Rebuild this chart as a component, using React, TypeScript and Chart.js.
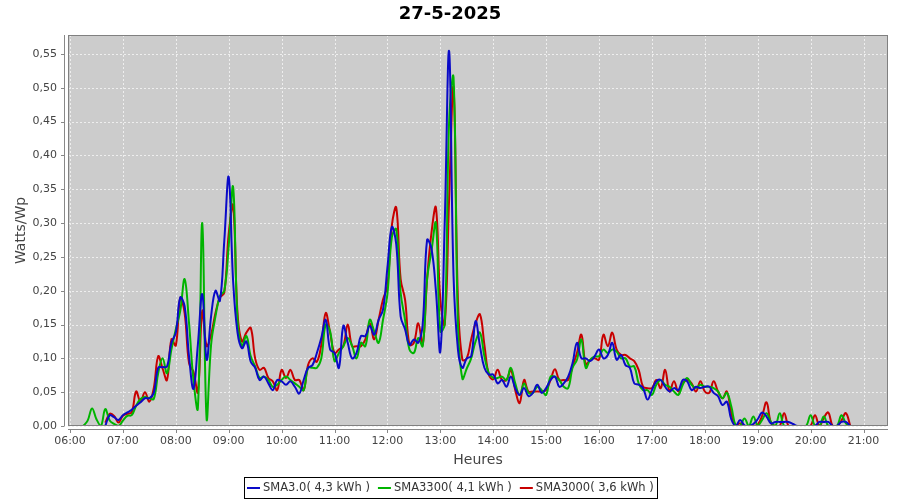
import React, { useEffect, useRef } from "react";
import { Chart, registerables } from "chart.js";

Chart.register(...registerables);

const TITLE = "27-5-2025";
const Y_TITLE = "Watts/Wp";
const X_TITLE = "Heures";
const START_HOUR = 6;
const STEP_MINUTES = 5;
const HOUR_TICKS = [6, 7, 8, 9, 10, 11, 12, 13, 14, 15, 16, 17, 18, 19, 20, 21];
const Y_TICKS = [0, 0.05, 0.1, 0.15, 0.2, 0.25, 0.3, 0.35, 0.4, 0.45, 0.5, 0.55];
const SERIES_NAMES = ["SMA3.0( 4,3 kWh )", "SMA3300( 4,1 kWh )", "SMA3000( 3,6 kWh )"];
const SERIES_COLORS = ["#0a0ac8", "#00b400", "#c80000"];

const sma30 = [
  null, null, null, null, null, null, null, null, 0, 0.016,
  0.013, 0.009, 0.016, 0.02, 0.024, 0.03, 0.035, 0.041, 0.041, 0.049,
  0.086, 0.087, 0.088, 0.123, 0.138, 0.19, 0.177, 0.103, 0.055, 0.12,
  0.195, 0.098, 0.162, 0.2, 0.185, 0.274, 0.368, 0.214, 0.138, 0.115,
  0.125, 0.095, 0.086, 0.068, 0.073, 0.063, 0.053, 0.068, 0.066, 0.061,
  0.066, 0.058, 0.048, 0.068, 0.086, 0.09, 0.108, 0.13, 0.157, 0.113,
  0.108, 0.086, 0.148, 0.123, 0.1, 0.108, 0.133, 0.133, 0.148, 0.135,
  0.157, 0.172, 0.234, 0.294, 0.269, 0.162, 0.143, 0.12, 0.128, 0.123,
  0.15, 0.275, 0.262, 0.2, 0.11, 0.3, 0.554, 0.222, 0.113, 0.086,
  0.1, 0.103, 0.155, 0.118, 0.086, 0.076, 0.076, 0.063, 0.068, 0.058,
  0.073, 0.056, 0.046, 0.056, 0.044, 0.049, 0.061, 0.049, 0.056, 0.068,
  0.073, 0.058, 0.063, 0.073, 0.093, 0.123, 0.1, 0.1, 0.096, 0.103,
  0.113, 0.1, 0.105, 0.123, 0.098, 0.105, 0.09, 0.086, 0.063, 0.061,
  0.056, 0.039, 0.053, 0.066, 0.068, 0.058, 0.051, 0.056, 0.053, 0.068,
  0.066, 0.053, 0.058, 0.056, 0.058, 0.058, 0.049, 0.044, 0.031, 0.036,
  0.01, 0, 0.009, 0.001, 0, 0.003, 0.01, 0.02, 0.014, 0.004,
  0.006, 0.006, 0.006, 0.006, 0.003, 0, 0, 0, 0, 0,
  0.006, 0.006, 0.006, 0, 0, 0.006, 0.006, 0, null, null,
  null, null, null,
];

const sma3300 = [
  null, null, null, 0, 0.008, 0.026, 0.01, 0, 0.025, 0.008,
  0.003, 0, 0.008, 0.015, 0.016, 0.03, 0.04, 0.043, 0.041, 0.04,
  0.078, 0.1, 0.078, 0.113, 0.143, 0.17, 0.217, 0.152, 0.068, 0.026,
  0.3, 0.009, 0.12, 0.162, 0.192, 0.2, 0.266, 0.353, 0.157, 0.118,
  0.133, 0.103, 0.088, 0.071, 0.073, 0.068, 0.058, 0.061, 0.068, 0.073,
  0.068, 0.063, 0.058, 0.053, 0.086, 0.086, 0.086, 0.1, 0.15, 0.14,
  0.096, 0.108, 0.118, 0.13, 0.118, 0.1, 0.123, 0.118, 0.157, 0.14,
  0.123, 0.157, 0.195, 0.279, 0.291, 0.197, 0.157, 0.113, 0.108, 0.13,
  0.118, 0.217, 0.259, 0.3, 0.14, 0.15, 0.45, 0.515, 0.15, 0.07,
  0.085, 0.1, 0.125, 0.138, 0.103, 0.078, 0.071, 0.071, 0.073, 0.068,
  0.086, 0.063, 0.046, 0.063, 0.049, 0.049, 0.058, 0.053, 0.046, 0.073,
  0.073, 0.068, 0.058, 0.056, 0.086, 0.098, 0.128, 0.086, 0.098, 0.103,
  0.103, 0.113, 0.108, 0.113, 0.11, 0.1, 0.1, 0.088, 0.088, 0.063,
  0.053, 0.053, 0.046, 0.061, 0.068, 0.061, 0.058, 0.051, 0.046, 0.061,
  0.071, 0.061, 0.056, 0.061, 0.058, 0.058, 0.056, 0.051, 0.041, 0.049,
  0.029, 0.001, 0, 0.011, 0, 0.014, 0.001, 0.009, 0.019, 0.006,
  0, 0.019, 0, 0, 0, 0, 0, 0, 0.016, 0,
  0, 0.014, 0, 0, 0, 0.016, 0.004, 0, 0, 0,
  0, 0, 0,
];

const sma3000 = [
  null, null, null, null, null, null, null, null, 0.005, 0.018,
  0.015, 0.005, 0.015, 0.018, 0.02, 0.051, 0.036, 0.05, 0.036, 0.056,
  0.103, 0.085, 0.068, 0.128, 0.119, 0.189, 0.167, 0.093, 0.08, 0.05,
  0.17, 0.118, 0.135, 0.167, 0.19, 0.197, 0.284, 0.326, 0.167, 0.125,
  0.138, 0.145, 0.1, 0.083, 0.086, 0.071, 0.066, 0.053, 0.083, 0.071,
  0.083, 0.068, 0.068, 0.053, 0.09, 0.1, 0.095, 0.12, 0.167, 0.138,
  0.108, 0.113, 0.118, 0.15, 0.118, 0.118, 0.118, 0.128, 0.152, 0.128,
  0.157, 0.187, 0.207, 0.296, 0.323, 0.217, 0.187, 0.12, 0.123, 0.152,
  0.12, 0.217, 0.286, 0.323, 0.187, 0.15, 0.336, 0.5, 0.185, 0.098,
  0.1, 0.128, 0.152, 0.165, 0.12, 0.076, 0.069, 0.083, 0.068, 0.068,
  0.083, 0.053, 0.034, 0.068, 0.051, 0.051, 0.051, 0.051, 0.053, 0.068,
  0.084, 0.068, 0.068, 0.068, 0.088, 0.108, 0.135, 0.091, 0.098, 0.1,
  0.098, 0.135, 0.118, 0.138, 0.113, 0.105, 0.105, 0.1, 0.096, 0.083,
  0.058, 0.056, 0.056, 0.068, 0.056, 0.083, 0.051, 0.066, 0.051, 0.063,
  0.068, 0.063, 0.051, 0.066, 0.051, 0.049, 0.066, 0.051, 0.041, 0.051,
  0.019, 0, 0.004, 0, 0, 0, 0.002, 0.015, 0.035, 0.005,
  0, 0, 0.019, 0, 0, 0, 0, 0, 0, 0.016,
  0, 0.012, 0.02, 0, 0, 0.008, 0.019, 0, null, null,
  null, null, null,
];

const SERIES = [sma30, sma3300, sma3000];
const times = sma30.map((_, i) => START_HOUR + (i * STEP_MINUTES) / 60);

const FONT = '"DejaVu Sans", "Liberation Sans", sans-serif';

const hourLabel = (h: number) => (h < 10 ? "0" + h : "" + h) + ":00";
const yLabel = (v: number) => v.toFixed(2).replace(".", ",");

const framePlugin = {
  id: "jfreeFrame",
  beforeDatasetsDraw(chart: any) {
    const { ctx, chartArea: a, scales } = chart;
    const xs = scales.x;
    const ys = scales.y;
    ctx.save();
    ctx.fillStyle = "#cccccc";
    ctx.fillRect(a.left, a.top, a.right - a.left, a.bottom - a.top);
    ctx.strokeStyle = "#eeeeee";
    ctx.lineWidth = 1;
    ctx.setLineDash([2, 2]);
    HOUR_TICKS.forEach((h) => {
      const px = Math.round(xs.getPixelForValue(h)) + 0.5;
      ctx.beginPath();
      ctx.moveTo(px, a.top);
      ctx.lineTo(px, a.bottom);
      ctx.stroke();
    });
    Y_TICKS.forEach((v) => {
      const py = Math.round(ys.getPixelForValue(v)) + 0.5;
      ctx.beginPath();
      ctx.moveTo(a.left, py);
      ctx.lineTo(a.right, py);
      ctx.stroke();
    });
    ctx.setLineDash([]);
    ctx.strokeStyle = "#888888";
    ctx.beginPath();
    ctx.moveTo(a.left - 3.5, a.top);
    ctx.lineTo(a.left - 3.5, a.bottom);
    ctx.moveTo(a.left, a.bottom + 3.5);
    ctx.lineTo(a.right, a.bottom + 3.5);
    ctx.stroke();
    ctx.beginPath();
    Y_TICKS.forEach((v) => {
      const py = Math.round(ys.getPixelForValue(v)) + 0.5;
      ctx.moveTo(a.left - 7, py);
      ctx.lineTo(a.left - 3.5, py);
    });
    HOUR_TICKS.forEach((h) => {
      const px = Math.round(xs.getPixelForValue(h)) + 0.5;
      ctx.moveTo(px, a.bottom + 3.5);
      ctx.lineTo(px, a.bottom + 7);
    });
    ctx.stroke();
    ctx.fillStyle = "#444444";
    ctx.font = "11px " + FONT;
    ctx.textAlign = "right";
    ctx.textBaseline = "middle";
    Y_TICKS.forEach((v) => {
      ctx.fillText(yLabel(v), a.left - 11, ys.getPixelForValue(v));
    });
    ctx.textAlign = "center";
    HOUR_TICKS.forEach((h) => {
      ctx.fillText(hourLabel(h), xs.getPixelForValue(h), a.bottom + 15);
    });
    ctx.font = "14px " + FONT;
    ctx.fillText(X_TITLE, (a.left + a.right) / 2, a.bottom + 34);
    ctx.save();
    ctx.translate(21, (a.top + a.bottom) / 2);
    ctx.rotate(-Math.PI / 2);
    ctx.fillText(Y_TITLE, 0, 0);
    ctx.restore();
    ctx.fillStyle = "#000000";
    ctx.font = "bold 18px " + FONT;
    ctx.fillText(TITLE, chart.width / 2, 14);
    ctx.restore();
  },
  afterDatasetsDraw(chart: any) {
    const { ctx, chartArea: a } = chart;
    ctx.save();
    ctx.strokeStyle = "#808080";
    ctx.lineWidth = 1;
    ctx.strokeRect(a.left + 0.5, a.top + 0.5, a.right - a.left - 1, a.bottom - a.top - 1);
    ctx.font = "11.5px " + FONT;
    const lineLen = 13;
    const gap = 3;
    const itemGap = 8;
    const pad = 3;
    const widths = SERIES_NAMES.map((n) => ctx.measureText(n).width);
    let total = pad * 2 + (SERIES_NAMES.length - 1) * itemGap;
    widths.forEach((w) => (total += lineLen + gap + w));
    const left = Math.round(chart.width / 2 - total / 2);
    const top = 477;
    const h = 21;
    ctx.strokeStyle = "#000000";
    ctx.strokeRect(left + 0.5, top + 0.5, Math.round(total), h);
    let x = left + pad;
    const cy = top + h / 2 + 0.5;
    ctx.textAlign = "left";
    ctx.textBaseline = "middle";
    SERIES_NAMES.forEach((n, i) => {
      ctx.strokeStyle = SERIES_COLORS[i];
      ctx.lineWidth = 2;
      ctx.beginPath();
      ctx.moveTo(x, cy);
      ctx.lineTo(x + lineLen, cy);
      ctx.stroke();
      x += lineLen + gap;
      ctx.fillStyle = "#333333";
      ctx.fillText(n, x, cy);
      x += widths[i] + itemGap;
    });
    ctx.restore();
  },
};

export default function App() {
  const ref = useRef<HTMLCanvasElement | null>(null);
  useEffect(() => {
    if (!ref.current) return;
    const chart = new Chart(ref.current, {
      type: "line",
      data: {
        datasets: SERIES.map((s, k) => ({
          label: SERIES_NAMES[k],
          data: times.map((t, i) => ({ x: t, y: s[i] })),
          borderColor: SERIES_COLORS[k],
          backgroundColor: SERIES_COLORS[k],
          borderWidth: 2,
          pointRadius: 0,
          tension: 0.4,
          fill: false,
          spanGaps: false,
        })),
      },
      options: {
        animation: false,
        responsive: false,
        layout: { padding: { left: 68, top: 35, right: 12, bottom: 74 } },
        plugins: { legend: { display: false }, title: { display: false }, tooltip: { enabled: false } },
        scales: {
          x: { type: "linear", display: false, min: 5.962, max: 21.463 },
          y: { type: "linear", display: false, min: 0, max: 0.578 },
        },
      },
      plugins: [framePlugin],
    } as any);
    return () => chart.destroy();
  }, []);
  return (
    <canvas
      ref={ref}
      width={900}
      height={500}
      style={{ position: "absolute", left: 0, top: 0, display: "block" }}
    />
  );
}
